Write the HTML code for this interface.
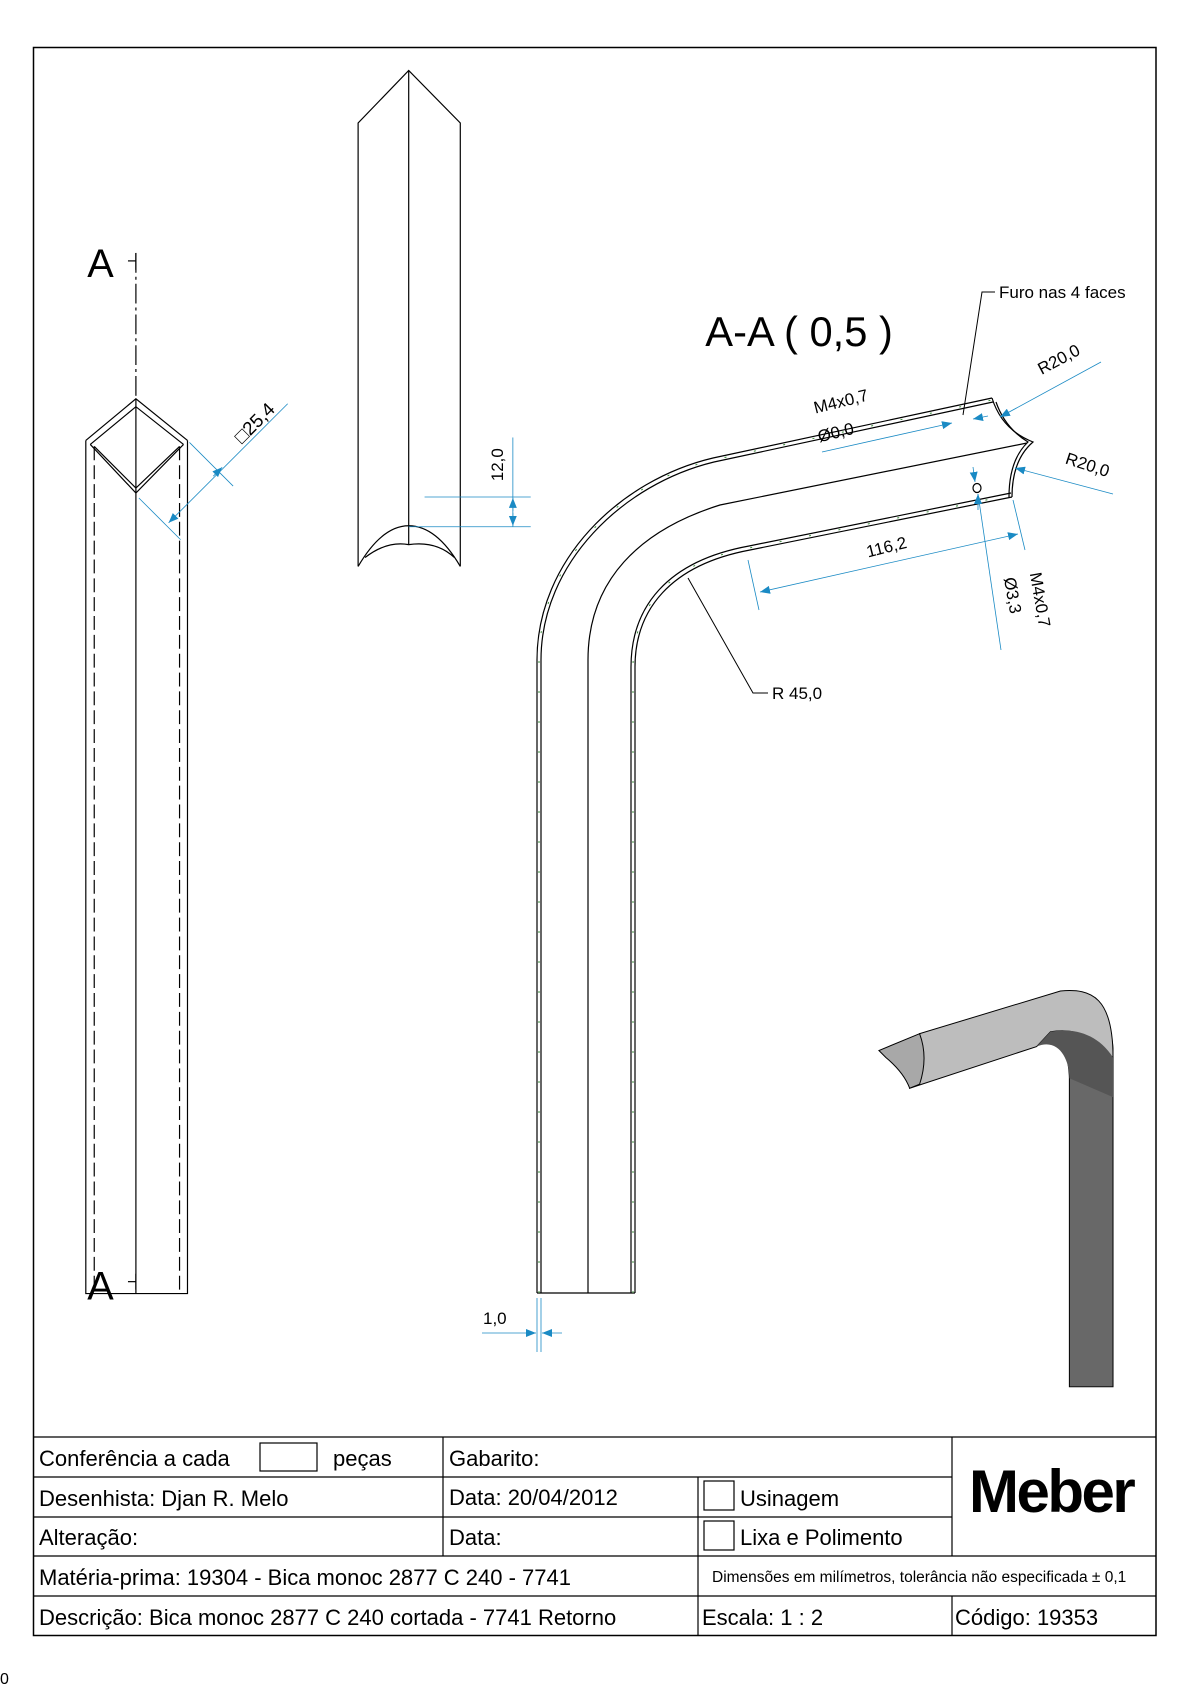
<!DOCTYPE html>
<html><head><meta charset="utf-8"><style>
html,body{margin:0;padding:0;background:#fff}
svg{display:block}
text{font-family:"Liberation Sans",sans-serif;fill:#000}
</style></head><body>
<svg width="1190" height="1684" viewBox="0 0 1190 1684" xmlns="http://www.w3.org/2000/svg">
<defs>
<marker id="ar" markerWidth="10" markerHeight="8" refX="10" refY="4" orient="auto-start-reverse" markerUnits="userSpaceOnUse"><path d="M0,0 L10,4 L0,8 z" fill="#1a8ac4"/></marker>
</defs>
<rect x="33.5" y="47.5" width="1122.5" height="1588" fill="none" stroke="#000" stroke-width="1.5"/>

<g transform="scale(0.992)">
<!-- Left view -->
<g stroke="#000" fill="none" stroke-width="1.2">
<path d="M86.5,444 L86.5,1304 L189,1304 L189,444"/>
<path d="M86.5,444 L137,402 L189,444 M91,448 L137,410 L185,448"/>
<path d="M91,448 L137,497 L185,448 M95,450 L137,492 L181,450"/>
<line x1="137" y1="402" x2="137" y2="1304"/>
<line x1="95" y1="450" x2="95" y2="1300" stroke-dasharray="14,5"/>
<line x1="181" y1="450" x2="181" y2="1300" stroke-dasharray="14,5"/>
<line x1="137" y1="255" x2="137" y2="402" stroke-dasharray="20,4,3,4"/>
<line x1="129" y1="263" x2="137" y2="263"/>
<line x1="137" y1="255" x2="137" y2="272"/>
<line x1="129" y1="1292" x2="137" y2="1292"/>
<line x1="137" y1="1284" x2="137" y2="1300"/>
</g>
<text x="88" y="279" font-size="40">A</text>
<text x="88" y="1310" font-size="40">A</text>
<g stroke="#1a8ac4" stroke-width="0.8" fill="none">
<line x1="191" y1="446" x2="235" y2="490"/>
<line x1="140" y1="502" x2="182" y2="544"/>
<line x1="290" y1="407" x2="170" y2="527" marker-end="url(#ar)"/>
<line x1="215" y1="480" x2="224" y2="471" marker-end="url(#ar)"/>
</g>
<text transform="translate(244,448) rotate(-45)" font-size="19">□25,4</text>

<!-- Middle view -->
<g stroke="#000" fill="none" stroke-width="1.2">
<path d="M361,571 L361,124 L412,71 L464,124 L464,571"/>
<line x1="412" y1="71" x2="412" y2="549"/>
<path d="M361,571 Q385,530 412,530 Q440,530 464,571"/>
<path d="M368,562 Q390,545 412,549 Q440,545 458,562"/>
</g>
<g stroke="#1a8ac4" stroke-width="0.8" fill="none">
<line x1="428" y1="501" x2="535" y2="501"/>
<line x1="412" y1="531" x2="535" y2="531"/>
<line x1="517" y1="441" x2="517" y2="531"/>
<line x1="517" y1="515" x2="517" y2="502" marker-end="url(#ar)"/>
<line x1="517" y1="517" x2="517" y2="530" marker-end="url(#ar)"/>
</g>
<text transform="translate(507,485) rotate(-90)" font-size="17">12,0</text>

<text x="711" y="349" font-size="42">A-A ( 0,5 )</text>
<text transform="translate(1050,378) rotate(-28)" font-size="17">R20,0</text>
<text transform="translate(1073,467) rotate(18)" font-size="17">R20,0</text>
<text transform="translate(822,417) rotate(-14)" font-size="17">M4x0,7</text>
<text transform="translate(826,446) rotate(-14)" font-size="17">Ø0,0</text>
<text transform="translate(875,562) rotate(-14)" font-size="17">116,2</text>
<text transform="translate(1012,583) rotate(80)" font-size="17">Ø3,3</text>
<text transform="translate(1038,578) rotate(80)" font-size="17">M4x0,7</text>

<!-- 3D -->
<g transform="translate(6,6)">
<path d="M1072,1081 L1072,1392 L1116,1392 L1116,1051 C1114,1020 1100,1015 1075,1038 C1065,1050 1072,1065 1072,1081 Z" fill="#686868" stroke="#000" stroke-width="1"/>
<path d="M1053,1034 C1080,1030 1090,1040 1090,1045 L1116,1060 C1116,1000 1095,990 1063,993 L921,1036 L911,1091 L1039,1049 Z" fill="#bdbdbd" stroke="#000" stroke-width="1"/>
<path d="M1039,1049 C1060,1040 1072,1060 1072,1081 L1116,1100 L1116,1060 C1100,1035 1075,1030 1053,1034 Z" fill="#555"/>
<path d="M921,1036 L880,1053 L887,1060 Q905,1075 911,1091 L921,1087 Q930,1060 921,1036 Z" fill="#a8a8a8" stroke="#000" stroke-width="1"/>
</g>
</g>

<!-- Section A-A geometry -->
<g stroke="#000" fill="none" stroke-width="1.2">
<path d="M537,1293 L537,660 C537,560 620,480 713,458 L992,398"/>
<path d="M541,1293 L541,660 C541,563 623,484 714,462 L993,402"/>
<path d="M588,1293 L588,660 C588,580 640,530 720,505 L1027,443"/>
<path d="M635,1293 L635,667 C635,610 670,565 750,550 L1012,497"/>
<path d="M631,1293 L631,667 C631,607 667,561 749,546 L1011,493"/>
<line x1="537" y1="1293" x2="635" y2="1293"/>
<path d="M992,398 Q1002,430 1033,442 Q1012,460 1012,497"/>
<path d="M996,402 Q1005,428 1028,442 Q1009,460 1009,497"/>
<ellipse cx="977" cy="488" rx="4" ry="4.5"/>
</g>
<g stroke="#3a8a3a" stroke-width="1" fill="none" stroke-dasharray="2,28">
<path d="M539,1293 L539,660 C539,561 621,482 713,460 L992,400"/>
<path d="M633,1293 L633,667 C633,608 668,563 749,548 L1011,495"/>
</g>
<g stroke="#1a8ac4" stroke-width="0.8" fill="none">
<line x1="1101" y1="362" x2="1000" y2="417" marker-end="url(#ar)"/>
<line x1="1113" y1="494" x2="1015" y2="468" marker-end="url(#ar)"/>
<line x1="822" y1="452" x2="952" y2="423" marker-end="url(#ar)"/>
<line x1="988" y1="416" x2="973" y2="419" marker-end="url(#ar)"/>
<line x1="1013" y1="500" x2="1025" y2="550"/>
<line x1="748" y1="560" x2="759" y2="610"/>
<line x1="1018" y1="534" x2="760" y2="592" marker-start="url(#ar)" marker-end="url(#ar)"/>
<line x1="973" y1="467" x2="975" y2="482" marker-end="url(#ar)"/>
<line x1="978" y1="510" x2="978" y2="494" marker-end="url(#ar)"/>
<line x1="978" y1="494" x2="1001" y2="650"/>
<line x1="537" y1="1298" x2="537" y2="1352"/>
<line x1="541" y1="1298" x2="541" y2="1352"/>
<line x1="482" y1="1333" x2="536" y2="1333" marker-end="url(#ar)"/>
<line x1="562" y1="1333" x2="542" y2="1333" marker-end="url(#ar)"/>
</g>
<g stroke="#000" stroke-width="1" fill="none">
<polyline points="963,415 982,292 995,292"/>
<polyline points="688,578 753,693 768,693"/>
</g>
<text x="999" y="298" font-size="17">Furo nas 4 faces</text>
<text x="772" y="699" font-size="17">R 45,0</text>
<text x="483" y="1324" font-size="17">1,0</text>

<!-- Title block -->
<g stroke="#000" stroke-width="1.2" fill="none">
<line x1="33.5" y1="1437" x2="1156" y2="1437"/>
<line x1="33.5" y1="1477" x2="443" y2="1477"/>
<line x1="443" y1="1477" x2="952" y2="1477"/>
<line x1="33.5" y1="1517" x2="952" y2="1517"/>
<line x1="33.5" y1="1556" x2="1156" y2="1556"/>
<line x1="33.5" y1="1596" x2="1156" y2="1596"/>
<line x1="443" y1="1437" x2="443" y2="1556"/>
<line x1="698" y1="1477" x2="698" y2="1636"/>
<line x1="952" y1="1437" x2="952" y2="1556"/>
<line x1="952" y1="1596" x2="952" y2="1636"/>
<rect x="260" y="1443" width="57" height="28"/>
<rect x="704" y="1481" width="30" height="29"/>
<rect x="704" y="1521" width="30" height="29"/>
</g>
<g font-size="22">
<text x="39" y="1466">Conferência a cada</text>
<text x="333" y="1466">peças</text>
<text x="449" y="1466">Gabarito:</text>
<text x="39" y="1506">Desenhista: Djan R. Melo</text>
<text x="449" y="1505">Data: 20/04/2012</text>
<text x="740" y="1506">Usinagem</text>
<text x="39" y="1545">Alteração:</text>
<text x="449" y="1545">Data:</text>
<text x="740" y="1545">Lixa e Polimento</text>
<text x="39" y="1585">Matéria-prima: 19304 - Bica monoc 2877 C 240 - 7741</text>
<text x="39" y="1625">Descrição: Bica monoc 2877 C 240 cortada - 7741 Retorno</text>
<text x="702" y="1625">Escala: 1 : 2</text>
<text x="955" y="1625">Código: 19353</text>
</g>
<text x="712" y="1582" font-size="15.5">Dimensões em milímetros, tolerância não especificada ± 0,1</text>
<text x="969" y="1512" font-size="60" font-weight="bold" letter-spacing="-2.5">Meber</text>
<text x="0" y="1684" font-size="16">0</text>
</svg>
</body></html>
